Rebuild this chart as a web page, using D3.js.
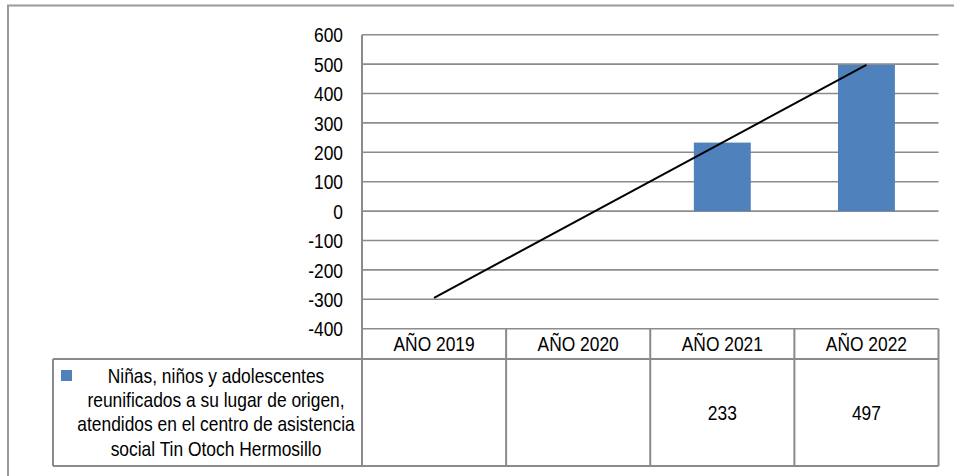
<!DOCTYPE html>
<html><head><meta charset="utf-8">
<script src="https://cdn.jsdelivr.net/npm/d3@7"></script>
<style>
html,body{margin:0;padding:0;background:#fff;}
text{font-family:"Liberation Sans",Arial,sans-serif;fill:#000;}
</style></head>
<body><svg id="c" width="954" height="476"></svg>
<script>
const categories = ["AÑO 2019", "AÑO 2020", "AÑO 2021", "AÑO 2022"];
const values = [null, null, 233, 497];
const yTicks = [600, 500, 400, 300, 200, 100, 0, -100, -200, -300, -400];
const seriesName = ["Niñas, niños y adolescentes", "reunificados a su lugar de origen,", "atendidos en el centro de asistencia", "social Tin Otoch Hermosillo"];

const svg = d3.select("#c");
const FS = 17.4, SY = 1.18;
const gridColor = "#8c8c8c";

function txt(x, y, s, anchor) {
  svg.append("text")
    .attr("transform", `translate(${x},${y}) scale(1,${SY})`)
    .attr("text-anchor", anchor || "middle")
    .attr("font-size", FS)
    .text(s);
}

// outer border (extends past right/bottom edges)
svg.append("path").attr("d", "M8,480 L8,5.5 L960,5.5")
  .attr("fill", "none").attr("stroke", "#9a9a9a").attr("stroke-width", 2);

const x = d3.scaleBand().domain(categories).range([362, 938.5]).paddingInner(0).paddingOuter(0);
const y = d3.scaleLinear().domain([-400, 600]).range([328.7, 34.7]);

// gridlines
svg.append("g").selectAll("line").data(yTicks).join("line")
  .attr("x1", 362).attr("x2", 938.5)
  .attr("y1", d => y(d)).attr("y2", d => y(d))
  .attr("stroke", gridColor).attr("stroke-width", 1.6);

// y tick labels
yTicks.forEach(t => txt(343, y(t) + 7.6, String(t), "end"));

// bars
const bw = x.bandwidth() * 0.395;
svg.append("g").selectAll("rect").data(categories.map((c, i) => ({c, v: values[i]})).filter(d => d.v != null))
  .join("rect")
  .attr("x", d => x(d.c) + x.bandwidth() / 2 - bw / 2)
  .attr("width", bw)
  .attr("y", d => y(Math.max(0, d.v)))
  .attr("height", d => Math.abs(y(d.v) - y(0)))
  .attr("fill", "#4F81BD");

// linear trendline over available points (Excel style, x = 1..n)
const pts = values.map((v, i) => ({xi: i + 1, v})).filter(d => d.v != null);
const mx = d3.mean(pts, d => d.xi), my = d3.mean(pts, d => d.v);
const slope = d3.sum(pts, d => (d.xi - mx) * (d.v - my)) / d3.sum(pts, d => (d.xi - mx) ** 2);
const icpt = my - slope * mx;
const trend = categories.map((c, i) => ({c, v: icpt + slope * (i + 1)}));
svg.append("path")
  .datum([trend[0], trend[trend.length - 1]])
  .attr("d", d3.line().x(d => x(d.c) + x.bandwidth() / 2).y(d => y(d.v)))
  .attr("fill", "none").attr("stroke", "#000").attr("stroke-width", 2);

// plot left axis line
svg.append("line").attr("x1", 362).attr("x2", 362).attr("y1", y(600)).attr("y2", 466)
  .attr("stroke", gridColor).attr("stroke-width", 2);

// data table
const tStroke = "#8a8a8a";
const hTop = y(-400), hBot = 359, tBot = 466, left = 53, right = 938.5;
// header row
svg.append("line").attr("x1", right).attr("x2", right).attr("y1", hTop).attr("y2", tBot).attr("stroke", tStroke).attr("stroke-width", 2);
svg.append("line").attr("x1", left).attr("x2", right).attr("y1", hBot).attr("y2", hBot).attr("stroke", tStroke).attr("stroke-width", 2);
svg.append("line").attr("x1", left).attr("x2", right).attr("y1", tBot).attr("y2", tBot).attr("stroke", tStroke).attr("stroke-width", 2);
svg.append("line").attr("x1", left).attr("x2", left).attr("y1", hBot).attr("y2", tBot).attr("stroke", tStroke).attr("stroke-width", 2);
categories.slice(1).forEach(c => {
  svg.append("line").attr("x1", x(c)).attr("x2", x(c)).attr("y1", hTop).attr("y2", tBot).attr("stroke", tStroke).attr("stroke-width", 2);
});
categories.forEach((c, i) => {
  txt(x(c) + x.bandwidth() / 2, 350.7, c);
  if (values[i] != null) txt(x(c) + x.bandwidth() / 2, 420, String(values[i]));
});
// legend key + series name
svg.append("rect").attr("x", 61).attr("y", 370).attr("width", 11).attr("height", 11).attr("fill", "#4F81BD");
seriesName.forEach((s, i) => txt(216, 383 + i * 24.2, s));
</script></body></html>
